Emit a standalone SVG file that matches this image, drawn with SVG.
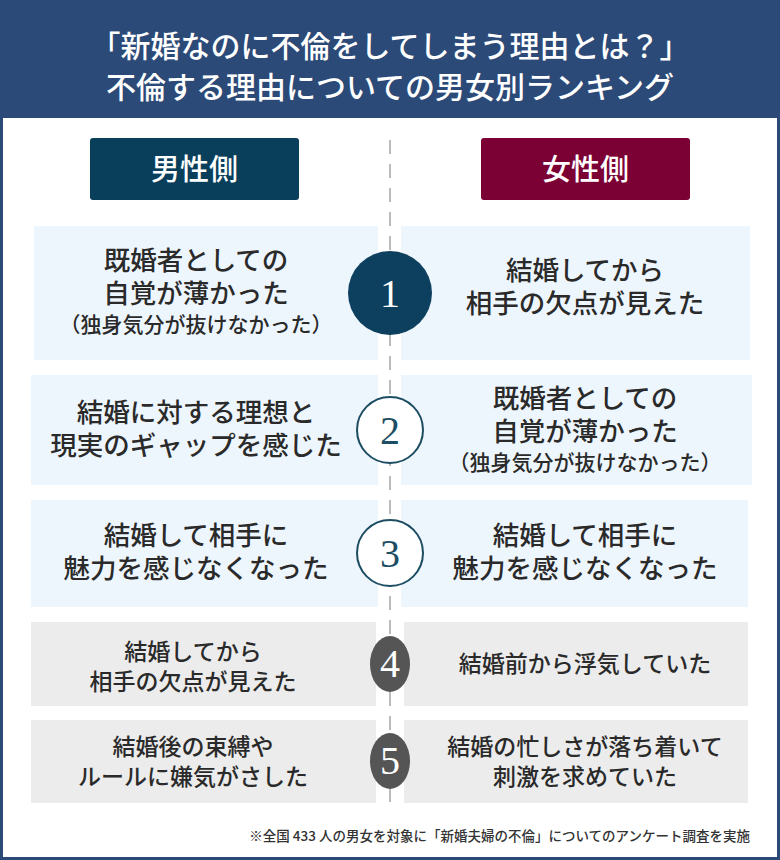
<svg xmlns="http://www.w3.org/2000/svg" width="780" height="860" viewBox="0 0 780 860">
<style>
text{font-family:"Noto Sans CJK JP","Noto Sans",sans-serif;text-anchor:middle;font-weight:500}
.t{font-size:26.5px;fill:#2a2a2a}
.s{font-size:21px;fill:#2a2a2a}
.m{font-size:23px;fill:#2a2a2a}
.b{fill:#eef6fd}.g{fill:#ececec}
.n{font-family:"Liberation Serif",serif;font-size:40px;font-weight:normal}
</style>
<rect width="780" height="860" fill="#2c4a78"/>
<rect x="3" y="118" width="774" height="739" fill="#fff"/>
<text x="390" y="57" font-size="30" fill="#fff">「新婚なのに不倫をしてしまう理由とは？」</text>
<text x="390" y="98" font-size="30" fill="#fff">不倫する理由についての男女別ランキング</text>
<g id="connectors"><line x1="390" y1="140" x2="390" y2="810" stroke="#bbb" stroke-width="2" stroke-dasharray="14 10"/></g>
<g id="h-m"><rect x="90" y="138" width="209" height="62" rx="3" fill="#0a3f5c"/><text x="194.5" y="180" font-size="29" fill="#fff">男性側</text></g>
<g id="h-f"><rect x="481" y="138" width="209" height="62" rx="3" fill="#7b0033"/><text x="585.5" y="180" font-size="29" fill="#fff">女性側</text></g>
<g id="r1">
<rect class="b" x="34" y="226" width="344" height="134"/><rect class="b" x="401" y="226" width="349" height="134"/>
<text class="t" x="196" y="270">既婚者としての</text><text class="t" x="196" y="303">自覚が薄かった</text><text class="s" x="196" y="332">（独身気分が抜けなかった）</text>
<text class="t" x="585" y="280">結婚してから</text><text class="t" x="585" y="313">相手の欠点が見えた</text>
<circle cx="390" cy="293" r="42" fill="#0d3f5e"/><text class="n" x="390" y="307" fill="#fff">1</text></g>
<g id="r2">
<rect class="b" x="31" y="375" width="347" height="110"/><rect class="b" x="401" y="375" width="351" height="110"/>
<text class="t" x="196" y="422">結婚に対する理想と</text><text class="t" x="196" y="455">現実のギャップを感じた</text>
<text class="t" x="585" y="408">既婚者としての</text><text class="t" x="585" y="441">自覚が薄かった</text><text class="s" x="585" y="470">（独身気分が抜けなかった）</text>
<circle cx="390" cy="430" r="33" fill="#fff" stroke="#1d4d63" stroke-width="2"/><text class="n" x="390" y="444" fill="#1d4d63">2</text></g>
<g id="r3">
<rect class="b" x="31" y="500" width="347" height="107"/><rect class="b" x="401" y="500" width="347" height="107"/>
<text class="t" x="196" y="545">結婚して相手に</text><text class="t" x="196" y="578">魅力を感じなくなった</text>
<text class="t" x="585" y="545">結婚して相手に</text><text class="t" x="585" y="578">魅力を感じなくなった</text>
<circle cx="390" cy="553" r="33" fill="#fff" stroke="#1d4d63" stroke-width="2"/><text class="n" x="390" y="567" fill="#1d4d63">3</text></g>
<g id="r4">
<rect class="g" x="31" y="622" width="345" height="84"/><rect class="g" x="404" y="622" width="344" height="84"/>
<text class="m" x="193" y="660">結婚してから</text><text class="m" x="193" y="690">相手の欠点が見えた</text>
<text class="m" x="585" y="672">結婚前から浮気していた</text>
<ellipse cx="390" cy="664" rx="20" ry="28" fill="#555"/><text class="n" x="390" y="677" font-size="32" fill="#fff">4</text></g>
<g id="r5">
<rect class="g" x="31" y="720" width="345" height="83"/><rect class="g" x="404" y="720" width="344" height="83"/>
<text class="m" x="193" y="755">結婚後の束縛や</text><text class="m" x="193" y="785">ルールに嫌気がさした</text>
<text class="m" x="585" y="755">結婚の忙しさが落ち着いて</text><text class="m" x="585" y="785">刺激を求めていた</text>
<ellipse cx="390" cy="761" rx="20" ry="28" fill="#555"/><text class="n" x="390" y="774" font-size="32" fill="#fff">5</text></g>
<text x="750" y="841" font-size="13.5" fill="#333" style="text-anchor:end">※全国 433 人の男女を対象に「新婚夫婦の不倫」についてのアンケート調査を実施</text>
</svg>
